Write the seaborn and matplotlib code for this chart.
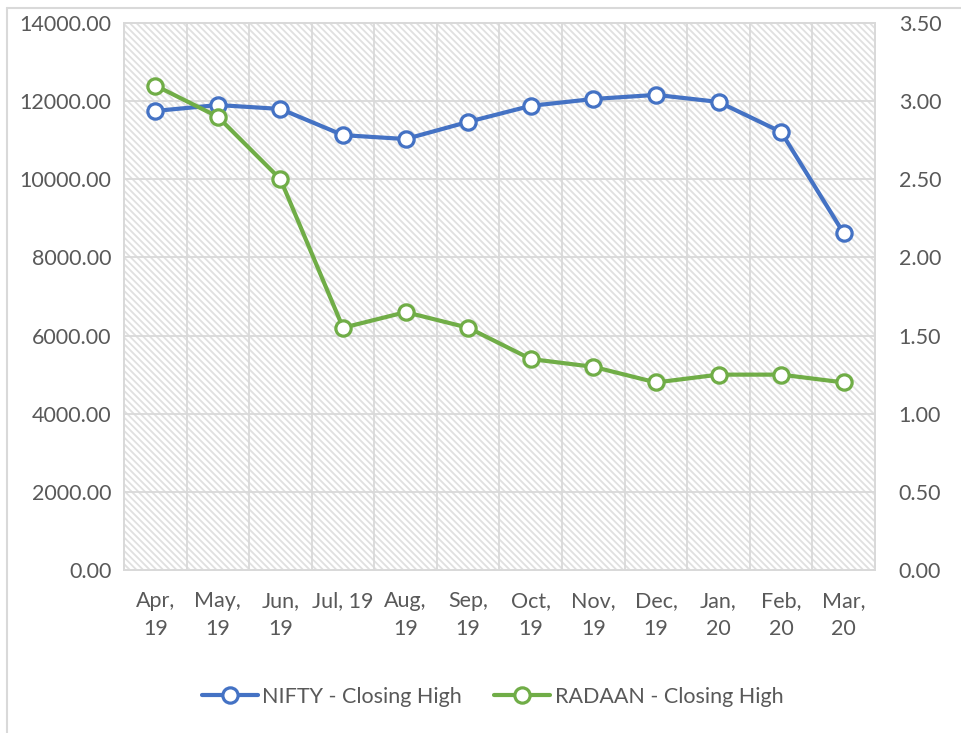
import numpy as np
import pandas as pd
import matplotlib
matplotlib.use('Agg')
import matplotlib.pyplot as plt
import seaborn as sns
from matplotlib import patches as mpatches
from matplotlib.lines import Line2D
from matplotlib.ticker import FormatStrFormatter, FixedLocator

#DATA
months = ['Apr,\n19', 'May,\n19', 'Jun,\n19', 'Jul, 19', 'Aug,\n19', 'Sep,\n19',
          'Oct,\n19', 'Nov,\n19', 'Dec,\n19', 'Jan,\n20', 'Feb,\n20', 'Mar,\n20']
nifty_high = [11750, 11900, 11800, 11130, 11030, 11470, 11880, 12055, 12160, 11980, 11210, 8620]
radaan_high = [3.10, 2.90, 2.50, 1.55, 1.65, 1.55, 1.35, 1.30, 1.20, 1.25, 1.25, 1.20]

df = pd.DataFrame({'pos': np.arange(len(months)), 'nifty': nifty_high, 'radaan': radaan_high})

sns.set_style('white')
plt.rcParams['font.family'] = ['Lato', 'DejaVu Sans']
plt.rcParams['hatch.linewidth'] = 1.3

blue = '#4472C4'
green = '#70AD47'
grid_c = '#d9d9d9'
txt_c = '#595959'
fs = 15.5

fig = plt.figure(figsize=(9.62, 7.33), dpi=100)
ax = fig.add_axes([124/962, 1-570/733, (875-124)/962, (570-23)/733])

#Hatched plot area
bg = mpatches.Rectangle((0, 0), 1, 1, transform=ax.transAxes, facecolor='white',
                        edgecolor='#e0e0e0', hatch='\\\\\\\\\\', linewidth=0, zorder=0)
ax.add_patch(bg)

sns.lineplot(data=df, x='pos', y='nifty', ax=ax, color=blue, lw=3, marker='o', markersize=11,
             markerfacecolor='white', markeredgecolor=blue, markeredgewidth=2.3, label='NIFTY - Closing High',
             legend=False, zorder=3)
ax2 = ax.twinx()
sns.lineplot(data=df, x='pos', y='radaan', ax=ax2, color=green, lw=3, marker='o', markersize=11,
             markerfacecolor='white', markeredgecolor=green, markeredgewidth=2.3, label='RADAAN - Closing High',
             legend=False, zorder=3)

ax.set_xlim(-0.5, len(months)-0.5)
ax.set_ylim(0, 14000)
ax2.set_ylim(0, 3.5)
ax.set_yticks(np.arange(0, 14001, 2000))
ax2.set_yticks(np.arange(0, 3.51, 0.5))
ax.yaxis.set_major_formatter(FormatStrFormatter('%.2f'))
ax2.yaxis.set_major_formatter(FormatStrFormatter('%.2f'))
ax.set_xticks(np.arange(len(months)))
ax.set_xticklabels(months, linespacing=1.5)
ax.xaxis.set_minor_locator(FixedLocator(np.arange(-0.5, len(months), 1)))

ax.grid(True, axis='y', which='major', color=grid_c, lw=1.3, zorder=1)
ax.grid(True, axis='x', which='minor', color=grid_c, lw=1.3, zorder=1)
ax.set_axisbelow(True)

ax.tick_params(axis='x', which='major', length=0, pad=15, labelsize=fs, labelcolor=txt_c)
ax.tick_params(axis='x', which='minor', length=6, color=grid_c, width=1.3)
ax.tick_params(axis='y', length=0, pad=9, labelsize=fs, labelcolor=txt_c)
ax2.tick_params(axis='y', length=0, pad=17, labelsize=fs, labelcolor=txt_c)

for a in (ax, ax2):
    for s in a.spines.values():
        s.set_color(grid_c)
        s.set_linewidth(1.3)
ax.set_xlabel('')
ax.set_ylabel('')
ax2.set_ylabel('')

#Legend
h1, l1 = ax.get_legend_handles_labels()
h2, l2 = ax2.get_legend_handles_labels()
fig.legend(h1+h2, l1+l2, loc='center', bbox_to_anchor=(0.512, 1-697/733), ncol=2, frameon=False,
           fontsize=fs, labelcolor=txt_c, handlelength=2.6, handletextpad=0.2, columnspacing=1.5)

#Chart border (top and left)
fig.add_artist(Line2D([7/962, 1], [1-8/733, 1-8/733], transform=fig.transFigure, color=grid_c, lw=1.5))
fig.add_artist(Line2D([7/962, 7/962], [0, 1-8/733], transform=fig.transFigure, color=grid_c, lw=1.5))

plt.savefig('out.png', dpi=100)
